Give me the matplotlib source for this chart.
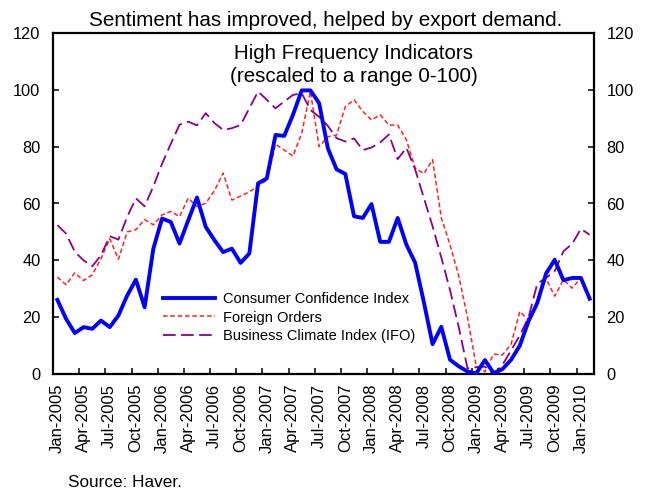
import matplotlib
matplotlib.use("Agg")
import matplotlib.pyplot as plt
import numpy as np
import pandas as pd

plt.rcParams["font.family"] = ["Liberation Sans", "DejaVu Sans"]

# monthly, Jan-2005 .. Feb-2010 (rescaled 0-100)
months = pd.date_range("2005-01-01", periods=62, freq="MS")

consumer_confidence = [
    26.1, 19.4, 14.4, 16.5, 15.9, 18.8, 16.5, 20.6, 27.6, 33.2,
    23.5, 44.1, 54.7, 53.5, 45.9, 54.1, 62.1, 51.8, 47.1, 42.9,
    44.1, 39.1, 42.4, 67.1, 68.8, 84.1, 83.8, 91.2, 99.8, 99.8,
    95.3, 79.4, 72.0, 70.4, 55.5, 54.9, 59.8, 46.5, 46.5, 54.9,
    45.5, 39.2, 25.3, 10.5, 16.6, 5.0, 2.7, 0.9, 0.2, 4.9,
    0.3, 1.7, 5.0, 10.0, 18.6, 25.0, 35.3, 40.2, 33.0, 33.8,
    33.8, 26.5,
]

foreign_orders = [
    34.1, 31.4, 35.6, 32.9, 34.9, 40.6, 47.6, 40.4, 50.0, 50.8,
    54.3, 52.5, 56.0, 57.2, 55.4, 61.9, 58.9, 60.1, 64.5, 70.7,
    61.2, 62.6, 64.1, 66.1, 68.2, 80.9, 78.8, 76.7, 84.7, 99.4,
    80.0, 83.5, 84.1, 94.1, 96.5, 92.4, 89.4, 91.2, 87.6, 87.6,
    82.4, 72.5, 70.5, 75.4, 55.0, 45.5, 34.5, 20.0, 2.8, 0.8,
    7.0, 6.7, 10.5, 22.0, 18.9, 25.0, 33.6, 27.4, 33.2, 30.2,
    33.8,
]

ifo_business_climate = [
    52.4, 49.4, 43.0, 40.0, 37.9, 41.8, 48.5, 47.3, 55.3, 61.8,
    59.0, 66.0, 74.0, 81.0, 87.7, 88.8, 87.5, 91.8, 88.3, 85.9,
    86.5, 87.6, 93.5, 99.4, 96.5, 93.5, 95.9, 98.2, 98.8, 92.9,
    90.5, 87.3, 83.0, 81.8, 82.9, 78.8, 79.7, 81.5, 84.3, 75.6,
    79.6, 72.0, 62.0, 52.0, 41.0, 29.5, 16.5, 2.0, 2.4, 2.6,
    0.0, 3.2, 8.3, 13.6, 20.0, 31.8, 33.8, 36.2, 43.2, 45.8,
    51.1, 49.0,
]

y_ticks = [0, 20, 40, 60, 80, 100, 120]

fig = plt.figure(figsize=(6.47, 4.90), dpi=100)
ax = fig.add_axes([53 / 647, 1 - 374 / 490, 541 / 647, 341 / 490])

x_cc = np.arange(len(consumer_confidence))
x_fo = np.arange(len(foreign_orders))
x_ifo = np.arange(len(ifo_business_climate))

ax.plot(x_cc, consumer_confidence, color="#0000ff", lw=2.8,
        label="Consumer Confidence Index", zorder=3)
ax.plot(x_fo, foreign_orders, color="#ff2020", lw=1.1,
        dashes=(3.0, 1.8), label="Foreign Orders", zorder=2)
ax.plot(x_ifo, ifo_business_climate, color="#8b008b", lw=1.3,
        dashes=(7.0, 3.0), label="Business Climate Index (IFO)", zorder=2)

ax.set_xlim(-0.5, len(months) - 0.5)
ax.set_ylim(0, 120)

# labels on every third month, tick marks on category boundaries
label_pos = np.arange(0, len(months), 3)
ax.set_xticks(label_pos)
ax.set_xticklabels([months[i].strftime("%b-%Y") for i in label_pos],
                   rotation=90, fontsize=12)
ax.set_xticks(np.arange(2.5, len(months) - 1, 3), minor=True)
ax.tick_params(axis="x", which="major", length=0, pad=7)
ax.tick_params(axis="x", which="minor", direction="in", length=4, width=1.1)

ax.set_yticks(y_ticks)
ax.tick_params(axis="y", direction="in", length=4, width=1.1,
               labelsize=11.8, left=True, right=True,
               labelleft=True, labelright=True, pad=9)

for sp in ax.spines.values():
    sp.set_linewidth(1.6)
    sp.set_color("black")

ax.legend(loc="upper left", bbox_to_anchor=(0.203, 0.240), frameon=False,
          fontsize=10.5, handlelength=3.6, handletextpad=0.5,
          labelspacing=0.3, borderpad=0, borderaxespad=0)

ax.text(0.556, 0.923, "High Frequency Indicators", transform=ax.transAxes,
        ha="center", va="baseline", fontsize=14.8)
ax.text(0.556, 0.856, "(rescaled to a range 0-100)", transform=ax.transAxes,
        ha="center", va="baseline", fontsize=14.8)

fig.text(0.504, 1 - 25.7 / 490, "Sentiment has improved, helped by export demand.",
         ha="center", va="baseline", fontsize=14.9)
fig.text(68 / 647, 1 - 482 / 490, "Source: Haver.", ha="left", va="center",
         fontsize=12.3)

fig.savefig("out.png", dpi=100)
